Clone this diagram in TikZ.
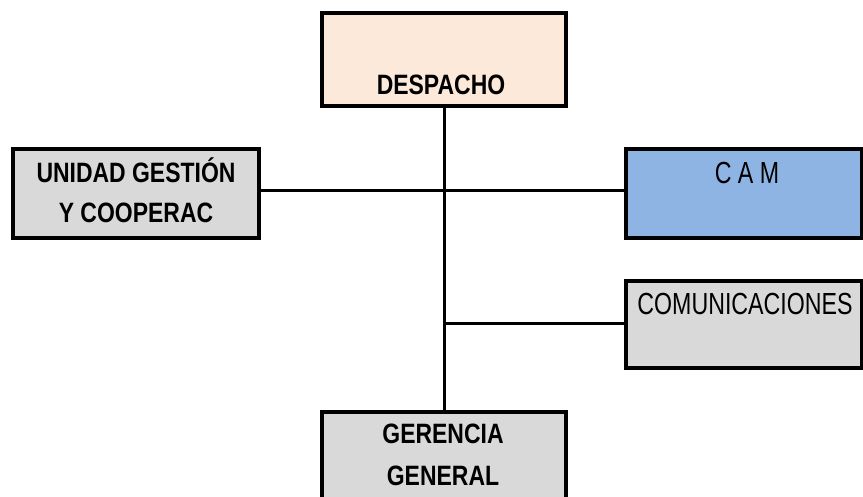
\documentclass[tikz,border=0pt]{standalone}
\usepackage{fontspec}
\setmainfont[FakeStretch=0.82]{Liberation Sans}
\newfontfamily\narrowreg[FakeStretch=0.76]{Liberation Sans}
\definecolor{peach}{HTML}{FDE9D9}
\definecolor{skyblue}{HTML}{8DB4E2}
\definecolor{lightgray}{HTML}{D9D9D9}
\begin{document}
\begin{tikzpicture}[x=1pt,y=-1pt,
  unit/.style={draw=black,line width=4pt,rectangle,inner sep=0pt},
  link/.style={draw=black,line width=3pt},
  bold label/.style={anchor=base,inner sep=0pt,font=\fontsize{28}{33}\selectfont\bfseries},
  plain label/.style={anchor=base,inner sep=0pt,font=\narrowreg\fontsize{30.5}{35}\selectfont}]
\useasboundingbox (0,0) rectangle (863,496);
\clip (0,0) rectangle (863,496);
% boxes
\node[unit,fill=peach,minimum width=244pt,minimum height=93pt] (desp) at (444,59.5) {};
\node[unit,fill=lightgray,minimum width=246pt,minimum height=89pt] (unid) at (136,193.5) {};
\node[unit,fill=skyblue,minimum width=236pt,minimum height=89pt] (cam) at (744,193.5) {};
\node[unit,fill=lightgray,minimum width=236pt,minimum height=87pt] (com) at (744,324.5) {};
\node[unit,fill=lightgray,minimum width=244pt,minimum height=110pt] (ger) at (444,467) {};
% labels
\node[bold label] (despT) at (441,94) {DESPACHO};
\node[bold label] (unidT1) at (136,182) {UNIDAD GESTIÓN};
\node[bold label] (unidT2) at (136,222) {Y COOPERAC};
\node[plain label] (camT) at (747,183) {C A M};
\node[plain label] (comT) at (745,314) {COMUNICACIONES};
\node[bold label] (gerT1) at (443,443) {GERENCIA};
\node[bold label] (gerT2) at (443,485) {GENERAL};
% connectors
\coordinate (hubA) at (444,190);
\coordinate (hubB) at (444,323);
\draw[link] (desp.south) -- (ger.north);
\draw[link] (unid.east |- hubA) -- (cam.west |- hubA);
\draw[link] (hubB) -- (com.west |- hubB);
\end{tikzpicture}
\end{document}
